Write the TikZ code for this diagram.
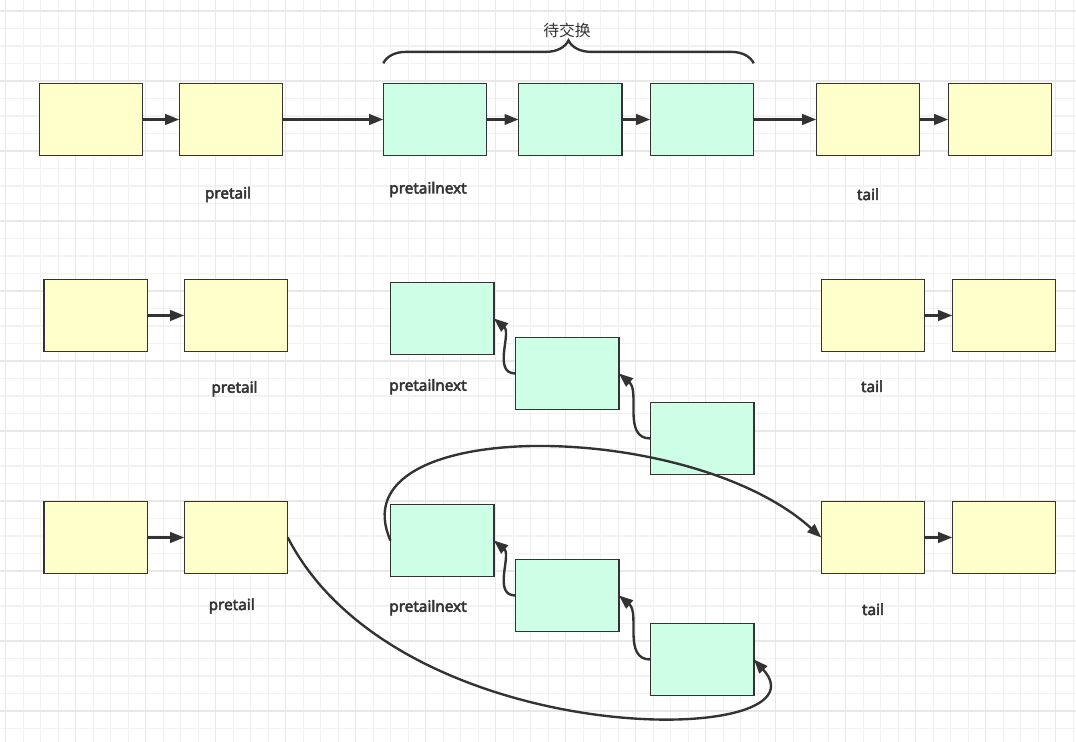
\documentclass[tikz,border=0pt]{standalone}
\usepackage{fontspec}
\setmainfont{Noto Sans}
\newfontfamily\lblfont{Noto Sans}[FakeBold=3]
\newfontfamily\cjkfont{Noto Sans CJK SC}
\usetikzlibrary{arrows.meta}
\usetikzlibrary{decorations.pathreplacing}
\definecolor{cellyel}{RGB}{255,255,204}
\definecolor{cellgrn}{RGB}{204,255,230}
\definecolor{inkgray}{RGB}{51,51,51}
\definecolor{gridlite}{RGB}{242,242,242}
\definecolor{griddark}{RGB}{232,232,232}
\tikzset{
  cell/.style={draw=inkgray, line width=0.75pt, minimum width=2.07cm, minimum height=1.44cm, inner sep=0pt, outer sep=0pt},
  ycell/.style={cell, fill=cellyel},
  gcell/.style={cell, fill=cellgrn},
  link/.style={draw=inkgray, line width=1.35pt, -{Triangle[length=8pt,width=6pt]}},
  lbl/.style={font=\lblfont\fontsize{8.7}{10}\selectfont, text=inkgray, anchor=base, inner sep=0pt},
}

\begin{document}
\begin{tikzpicture}[x=0.02cm, y=-0.02cm]
\useasboundingbox (0,0) rectangle (1076,742);
\fill[white] (0,0) rectangle (1076,742);

% background grid
\foreach \i in {0,...,61}
  \draw[gridlite, line width=0.6pt] ({5.75+17.5*\i},0) -- ({5.75+17.5*\i},742);
\foreach \i in {0,...,41}
  \draw[gridlite, line width=0.6pt] (0,{11+17.5*\i}) -- (1076,{11+17.5*\i});
\foreach \i in {0,...,15}
  \draw[griddark, line width=0.7pt] ({5.75+70*\i},0) -- ({5.75+70*\i},742);
\foreach \i in {0,...,10}
  \draw[griddark, line width=0.7pt] (0,{11+70*\i}) -- (1076,{11+70*\i});

% row 1: before the swap
\node[ycell] (a1) at (91,119.5) {};
\node[ycell] (a2) at (231,119.5) {};
\node[gcell] (a3) at (435,119.5) {};
\node[gcell] (a4) at (570.3,119.5) {};
\node[gcell] (a5) at (702,119.5) {};
\node[ycell] (a6) at (868,119.5) {};
\node[ycell] (a7) at (1000,119.5) {};
\foreach \u/\v in {a1/a2,a2/a3,a3/a4,a4/a5,a5/a6,a6/a7}
  \draw[link] (\u) -- (\v);

\draw[inkgray, line width=1.35pt, decorate, decoration={brace, amplitude=13pt, aspect=0.5, raise=11.5pt}]
  (a3.north west) -- (a5.north east);
\node[font=\cjkfont\fontsize{9}{10}\selectfont, text=inkgray] (swap) at (567,30) {待交换};

\node[lbl] (a2l) at (228,198.5) {pretail};
\node[lbl] (a3l) at (428,193.5) {pretailnext};
\node[lbl] (a6l) at (868,200) {tail};

% row 2: segment reversed
\node[ycell] (b1) at (95.8,315.5) {};
\node[ycell] (b2) at (236,315.5) {};
\node[gcell] (b3) at (442.2,318.5) {};
\node[gcell] (b4) at (567.2,373.5) {};
\node[gcell] (b5) at (702.2,438.5) {};
\node[ycell] (b6) at (873,315.5) {};
\node[ycell] (b7) at (1004,315.5) {};
\draw[link] (b1) -- (b2);
\draw[link] (b6) -- (b7);
\draw[link] (b4.west) to[out=180,in=-40] (b3.east);
\draw[link] (b5.west) to[out=180,in=-40] (b4.east);

\node[lbl] (b2l) at (234.5,392.7) {pretail};
\node[lbl] (b3l) at (428,390.7) {pretailnext};
\node[lbl] (b6l) at (872,392) {tail};

% row 3: reconnected
\node[ycell] (c1) at (95.8,537.5) {};
\node[ycell] (c2) at (236,537.5) {};
\node[gcell] (c3) at (442.2,540.5) {};
\node[gcell] (c4) at (567.2,595.5) {};
\node[gcell] (c5) at (702.2,659.5) {};
\node[ycell] (c6) at (873,537.5) {};
\node[ycell] (c7) at (1004,537.5) {};
\draw[link] (c1) -- (c2);
\draw[link] (c6) -- (c7);
\draw[link] (c4.west) to[out=180,in=-40] (c3.east);
\draw[link] (c5.west) to[out=180,in=-40] (c4.east);
\draw[link] (c3.west) .. controls (335,415) and (690,418) .. (c6.west);
\draw[link] (c2.east) .. controls (400,755) and (835,748) .. (c5.east);

\node[lbl] (c2l) at (231.7,610) {pretail};
\node[lbl] (c3l) at (428,611.7) {pretailnext};
\node[lbl] (c6l) at (873,615) {tail};
\end{tikzpicture}
\end{document}
